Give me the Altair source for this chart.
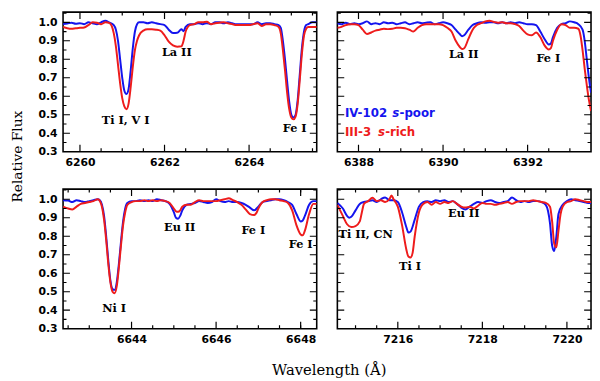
import altair as alt
import pandas as pd

STARS = ["IV-102 s-poor", "III-3 s-rich"]
COLORS = ["#1414ee", "#ee1c1c"]

# ---------------- top-left panel (6259.6 - 6265.6) ----------------
TL_BLUE = [
    (6259.6, 0.990), (6259.7, 0.993), (6259.8, 0.998), (6259.9, 0.992), (6260.0, 0.995),
    (6260.1, 0.990), (6260.2, 1.000), (6260.3, 0.995), (6260.4, 0.990), (6260.5, 1.000),
    (6260.6, 1.008), (6260.7, 0.998), (6260.8, 0.985), (6260.85, 0.960), (6260.9, 0.900),
    (6260.95, 0.800), (6261.0, 0.700), (6261.05, 0.630), (6261.1, 0.612), (6261.15, 0.640),
    (6261.2, 0.740), (6261.25, 0.860), (6261.3, 0.950), (6261.35, 0.990), (6261.4, 1.000),
    (6261.5, 1.000), (6261.6, 0.995), (6261.7, 1.000), (6261.8, 0.995), (6261.9, 0.990),
    (6262.0, 0.985), (6262.1, 0.960), (6262.2, 0.942), (6262.3, 0.943), (6262.4, 0.962),
    (6262.45, 0.952), (6262.5, 0.975), (6262.6, 0.990), (6262.7, 0.990), (6262.8, 0.995),
    (6262.9, 0.990), (6263.0, 0.995), (6263.1, 0.990), (6263.2, 1.000), (6263.3, 1.000),
    (6263.4, 0.995), (6263.5, 1.000), (6263.6, 0.995), (6263.7, 0.990), (6263.8, 0.990),
    (6263.9, 0.990), (6264.0, 0.990), (6264.1, 0.990), (6264.2, 1.000), (6264.3, 0.990),
    (6264.4, 0.995), (6264.5, 0.995), (6264.6, 0.990), (6264.7, 0.985), (6264.75, 0.970),
    (6264.8, 0.900), (6264.85, 0.800), (6264.9, 0.680), (6264.95, 0.570), (6265.0, 0.500),
    (6265.05, 0.485), (6265.1, 0.500), (6265.15, 0.580), (6265.2, 0.720), (6265.25, 0.860),
    (6265.3, 0.950), (6265.35, 0.985), (6265.4, 0.990), (6265.5, 1.000), (6265.6, 1.000),
]
TL_RED = [
    (6259.6, 0.975), (6259.7, 0.968), (6259.8, 0.965), (6259.9, 0.968), (6260.0, 0.970),
    (6260.1, 0.972), (6260.2, 0.985), (6260.3, 1.000), (6260.4, 0.998), (6260.5, 0.990),
    (6260.6, 1.000), (6260.7, 0.995), (6260.75, 0.980), (6260.8, 0.940), (6260.85, 0.870),
    (6260.9, 0.770), (6260.95, 0.670), (6261.0, 0.590), (6261.05, 0.545), (6261.1, 0.530),
    (6261.15, 0.560), (6261.2, 0.650), (6261.25, 0.760), (6261.3, 0.850), (6261.35, 0.900),
    (6261.4, 0.930), (6261.5, 0.955), (6261.6, 0.962), (6261.7, 0.962), (6261.8, 0.960),
    (6261.9, 0.955), (6262.0, 0.930), (6262.1, 0.895), (6262.2, 0.875), (6262.3, 0.868),
    (6262.4, 0.870), (6262.45, 0.900), (6262.5, 0.950), (6262.55, 0.975), (6262.6, 0.985),
    (6262.7, 0.990), (6262.8, 1.000), (6262.9, 1.000), (6263.0, 1.003), (6263.1, 0.990),
    (6263.2, 0.995), (6263.3, 0.998), (6263.4, 1.000), (6263.5, 0.995), (6263.6, 0.990),
    (6263.7, 0.985), (6263.8, 0.985), (6263.9, 0.985), (6264.0, 0.985), (6264.1, 0.990),
    (6264.2, 0.995), (6264.3, 0.980), (6264.4, 0.990), (6264.5, 0.990), (6264.6, 0.985),
    (6264.7, 0.975), (6264.75, 0.940), (6264.8, 0.850), (6264.85, 0.740), (6264.9, 0.620),
    (6264.95, 0.530), (6265.0, 0.485), (6265.05, 0.475), (6265.1, 0.490), (6265.15, 0.560),
    (6265.2, 0.690), (6265.25, 0.830), (6265.3, 0.930), (6265.35, 0.965), (6265.4, 0.975),
    (6265.5, 0.975), (6265.6, 0.975),
]
TL_NOTES = ["Ti I, V I", "La II", "Fe I"]
TL_NOTES_WL = [6261.08, 6262.29, 6265.08]
TL_NOTES_FLUX = [0.466, 0.832, 0.423]

# ---------------- top-right panel (6387.5 - 6393.5) ----------------
TR_BLUE = [
    (6387.5, 0.995), (6387.6, 0.990), (6387.7, 0.998), (6387.8, 0.990), (6387.9, 0.995),
    (6388.0, 0.990), (6388.1, 0.995), (6388.2, 1.005), (6388.3, 0.990), (6388.4, 0.995),
    (6388.5, 0.990), (6388.6, 1.000), (6388.7, 0.995), (6388.8, 0.998), (6388.9, 0.990),
    (6389.0, 0.995), (6389.1, 1.000), (6389.2, 0.990), (6389.3, 0.995), (6389.4, 1.000),
    (6389.5, 0.995), (6389.6, 0.998), (6389.7, 1.000), (6389.8, 0.990), (6389.9, 0.995),
    (6390.0, 1.000), (6390.1, 0.995), (6390.2, 0.985), (6390.3, 0.960), (6390.4, 0.935),
    (6390.45, 0.925), (6390.5, 0.930), (6390.6, 0.960), (6390.7, 0.985), (6390.8, 0.995),
    (6390.9, 1.000), (6391.0, 0.998), (6391.1, 1.000), (6391.2, 1.000), (6391.3, 0.995),
    (6391.4, 1.000), (6391.5, 0.995), (6391.6, 1.000), (6391.7, 0.995), (6391.8, 1.000),
    (6391.9, 0.995), (6392.0, 0.990), (6392.1, 0.990), (6392.2, 0.985), (6392.3, 0.950),
    (6392.4, 0.910), (6392.5, 0.880), (6392.55, 0.885), (6392.6, 0.920), (6392.7, 0.970),
    (6392.8, 0.990), (6392.9, 0.995), (6393.0, 1.005), (6393.1, 1.000), (6393.2, 0.990),
    (6393.3, 0.960), (6393.35, 0.900), (6393.4, 0.800), (6393.45, 0.700), (6393.5, 0.620),
]
TR_RED = [
    (6387.5, 0.970), (6387.6, 0.975), (6387.7, 0.985), (6387.8, 0.990), (6387.9, 0.990),
    (6388.0, 0.985), (6388.1, 0.960), (6388.2, 0.937), (6388.3, 0.945), (6388.4, 0.955),
    (6388.5, 0.960), (6388.6, 0.965), (6388.7, 0.963), (6388.8, 0.965), (6388.9, 0.970),
    (6389.0, 0.970), (6389.1, 0.968), (6389.2, 0.960), (6389.3, 0.950), (6389.4, 0.970),
    (6389.5, 0.985), (6389.6, 0.990), (6389.7, 0.990), (6389.8, 0.990), (6389.9, 0.990),
    (6390.0, 0.985), (6390.1, 0.970), (6390.2, 0.950), (6390.3, 0.900), (6390.4, 0.865),
    (6390.45, 0.856), (6390.5, 0.860), (6390.6, 0.910), (6390.7, 0.960), (6390.8, 0.985),
    (6390.9, 0.995), (6391.0, 1.005), (6391.1, 1.008), (6391.2, 1.002), (6391.3, 0.998),
    (6391.4, 1.000), (6391.5, 0.995), (6391.6, 0.995), (6391.7, 0.990), (6391.8, 0.980),
    (6391.9, 0.955), (6392.0, 0.935), (6392.1, 0.930), (6392.2, 0.945), (6392.3, 0.920),
    (6392.4, 0.875), (6392.5, 0.853), (6392.55, 0.860), (6392.6, 0.900), (6392.7, 0.960),
    (6392.8, 0.990), (6392.9, 0.985), (6393.0, 0.970), (6393.1, 0.970), (6393.2, 0.965),
    (6393.25, 0.930), (6393.3, 0.850), (6393.35, 0.750), (6393.4, 0.660), (6393.45, 0.580),
    (6393.5, 0.520),
]
TR_NOTES = ["La II", "Fe I"]
TR_NOTES_WL = [6390.49, 6392.49]
TR_NOTES_FLUX = [0.823, 0.800]

LEG_TEXT = ["IV-102", "s", "-poor", "III-3", "s", "-rich"]
LEG_WL = [6387.68, 6388.80, 6388.97, 6387.68, 6388.46, 6388.63]
LEG_FLUX = [0.510, 0.510, 0.510, 0.407, 0.407, 0.407]
LEG_STAR = [STARS[0]] * 3 + [STARS[1]] * 3
LEG_ITALIC = [False, True, False, False, True, False]

# ---------------- bottom-left panel (6642.38 - 6648.38) ----------------
BL_BLUE = [
    (6642.38, 0.995), (6642.5, 0.993), (6642.6, 0.985), (6642.7, 0.995), (6642.8, 0.990),
    (6642.9, 0.985), (6643.0, 0.990), (6643.1, 0.995), (6643.2, 1.000), (6643.25, 0.995),
    (6643.3, 0.970), (6643.35, 0.910), (6643.4, 0.800), (6643.45, 0.670), (6643.5, 0.560),
    (6643.55, 0.515), (6643.6, 0.510), (6643.65, 0.550), (6643.7, 0.650), (6643.75, 0.770),
    (6643.8, 0.880), (6643.85, 0.950), (6643.9, 0.980), (6644.0, 0.990), (6644.1, 0.990),
    (6644.2, 0.995), (6644.3, 0.990), (6644.4, 0.995), (6644.5, 0.990), (6644.6, 1.000),
    (6644.7, 0.995), (6644.8, 0.990), (6644.9, 0.975), (6645.0, 0.930), (6645.05, 0.900),
    (6645.1, 0.895), (6645.15, 0.910), (6645.2, 0.940), (6645.3, 0.970), (6645.4, 0.975),
    (6645.5, 0.980), (6645.6, 0.990), (6645.7, 0.985), (6645.8, 0.980), (6645.9, 0.985),
    (6646.0, 1.000), (6646.1, 0.990), (6646.2, 0.985), (6646.3, 0.990), (6646.4, 0.985),
    (6646.5, 0.985), (6646.6, 0.980), (6646.7, 0.970), (6646.8, 0.955), (6646.9, 0.940),
    (6647.0, 0.960), (6647.1, 0.985), (6647.2, 0.990), (6647.3, 0.995), (6647.4, 1.000),
    (6647.5, 1.000), (6647.6, 0.995), (6647.7, 0.985), (6647.8, 0.970), (6647.9, 0.920),
    (6648.0, 0.880), (6648.05, 0.885), (6648.1, 0.910), (6648.2, 0.970), (6648.3, 0.990),
    (6648.38, 0.990),
]
BL_RED = [
    (6642.38, 0.960), (6642.5, 0.950), (6642.6, 0.945), (6642.7, 0.960), (6642.8, 0.975),
    (6642.9, 0.980), (6643.0, 0.985), (6643.1, 0.990), (6643.2, 1.000), (6643.25, 0.990),
    (6643.3, 0.960), (6643.35, 0.890), (6643.4, 0.780), (6643.45, 0.650), (6643.5, 0.550),
    (6643.55, 0.500), (6643.6, 0.492), (6643.65, 0.530), (6643.7, 0.630), (6643.75, 0.750),
    (6643.8, 0.860), (6643.85, 0.930), (6643.9, 0.970), (6644.0, 0.985), (6644.1, 0.990),
    (6644.2, 0.990), (6644.3, 0.995), (6644.4, 0.990), (6644.5, 0.995), (6644.6, 0.990),
    (6644.7, 0.995), (6644.8, 0.990), (6644.9, 0.980), (6645.0, 0.950), (6645.05, 0.935),
    (6645.1, 0.932), (6645.15, 0.940), (6645.2, 0.960), (6645.3, 0.970), (6645.4, 0.970),
    (6645.5, 0.985), (6645.6, 0.995), (6645.7, 0.990), (6645.8, 0.990), (6645.9, 0.990),
    (6646.0, 0.990), (6646.1, 0.995), (6646.2, 1.000), (6646.3, 1.005), (6646.4, 0.995),
    (6646.5, 0.985), (6646.6, 0.970), (6646.7, 0.945), (6646.8, 0.920), (6646.9, 0.915),
    (6646.95, 0.925), (6647.0, 0.950), (6647.1, 0.985), (6647.2, 0.995), (6647.3, 1.000),
    (6647.4, 1.000), (6647.5, 0.995), (6647.6, 0.990), (6647.7, 0.980), (6647.8, 0.940),
    (6647.9, 0.860), (6648.0, 0.810), (6648.05, 0.805), (6648.1, 0.830), (6648.2, 0.920),
    (6648.3, 0.975), (6648.38, 0.975),
]
BL_NOTES = ["Ni I", "Eu II", "Fe I", "Fe I"]
BL_NOTES_WL = [6643.59, 6645.14, 6646.88, 6648.0]
BL_NOTES_FLUX = [0.404, 0.847, 0.830, 0.751]

# ---------------- bottom-right panel (7214.57 - 7220.57) ----------------
BR_BLUE = [
    (7214.57, 0.980), (7214.7, 0.950), (7214.8, 0.910), (7214.85, 0.900), (7214.9, 0.905),
    (7215.0, 0.940), (7215.1, 0.975), (7215.2, 0.985), (7215.3, 0.990), (7215.4, 0.995),
    (7215.5, 0.985), (7215.6, 1.000), (7215.7, 1.010), (7215.8, 0.995), (7215.9, 0.995),
    (7216.0, 0.985), (7216.1, 0.930), (7216.2, 0.850), (7216.25, 0.820), (7216.3, 0.825),
    (7216.4, 0.890), (7216.5, 0.960), (7216.6, 0.985), (7216.7, 0.990), (7216.8, 0.985),
    (7216.9, 0.995), (7217.0, 0.990), (7217.1, 0.995), (7217.2, 0.985), (7217.3, 0.990),
    (7217.4, 0.975), (7217.5, 0.955), (7217.6, 0.945), (7217.7, 0.960), (7217.8, 0.975),
    (7217.9, 0.985), (7218.0, 0.980), (7218.1, 0.990), (7218.2, 0.995), (7218.3, 0.985),
    (7218.4, 0.980), (7218.5, 0.985), (7218.6, 0.990), (7218.7, 1.010), (7218.8, 0.995),
    (7218.9, 0.985), (7219.0, 0.990), (7219.1, 0.985), (7219.2, 0.990), (7219.3, 0.990),
    (7219.4, 0.985), (7219.5, 0.970), (7219.6, 0.870), (7219.65, 0.750), (7219.7, 0.720),
    (7219.75, 0.800), (7219.8, 0.920), (7219.9, 0.970), (7220.0, 0.990), (7220.1, 1.000),
    (7220.2, 0.995), (7220.3, 0.990), (7220.4, 0.985), (7220.5, 0.980), (7220.57, 0.980),
]
BR_RED = [
    (7214.57, 0.970), (7214.7, 0.910), (7214.8, 0.865), (7214.9, 0.850), (7215.0, 0.855),
    (7215.1, 0.880), (7215.15, 0.930), (7215.2, 0.975), (7215.3, 0.990), (7215.4, 1.008),
    (7215.5, 0.990), (7215.6, 0.995), (7215.7, 0.985), (7215.8, 1.000), (7215.85, 1.020),
    (7215.9, 1.000), (7216.0, 0.960), (7216.1, 0.860), (7216.2, 0.730), (7216.25, 0.690),
    (7216.3, 0.685), (7216.35, 0.710), (7216.4, 0.800), (7216.5, 0.930), (7216.6, 0.975),
    (7216.7, 0.985), (7216.8, 0.970), (7216.9, 0.985), (7217.0, 0.975), (7217.1, 0.985),
    (7217.2, 0.980), (7217.3, 0.990), (7217.4, 0.975), (7217.5, 0.960), (7217.6, 0.955),
    (7217.7, 0.960), (7217.8, 0.950), (7217.9, 0.965), (7218.0, 0.980), (7218.1, 0.975),
    (7218.2, 0.975), (7218.3, 0.970), (7218.4, 0.975), (7218.5, 0.980), (7218.6, 0.985),
    (7218.7, 0.975), (7218.8, 0.985), (7218.9, 0.990), (7219.0, 0.990), (7219.1, 0.990),
    (7219.2, 0.995), (7219.3, 0.990), (7219.4, 0.985), (7219.5, 0.980), (7219.6, 0.960),
    (7219.65, 0.880), (7219.7, 0.760), (7219.75, 0.740), (7219.8, 0.830), (7219.85, 0.920),
    (7219.9, 0.960), (7220.0, 0.985), (7220.1, 0.990), (7220.2, 1.000), (7220.3, 0.995),
    (7220.4, 0.990), (7220.5, 0.985), (7220.57, 0.985),
]
BR_NOTES = ["Ti II, CN", "Ti I", "Eu II"]
BR_NOTES_WL = [7215.24, 7216.29, 7217.56]
BR_NOTES_FLUX = [0.804, 0.634, 0.920]

Y_DOMAIN = [0.3, 1.055]
Y_MAJOR = [0.3, 0.4, 0.5, 0.6, 0.7, 0.8, 0.9, 1.0]
Y_MINOR = [0.35, 0.45, 0.55, 0.65, 0.75, 0.85, 0.95, 1.05]

PANELS = [
    dict(dom=[6259.6, 6265.6], major=[6260, 6262, 6264],
         minor=[6260.5, 6261, 6261.5, 6262.5, 6263, 6263.5, 6264.5, 6265, 6265.5],
         blue=TL_BLUE, red=TL_RED, notes=(TL_NOTES, TL_NOTES_WL, TL_NOTES_FLUX),
         ylabels=True, legend=False),
    dict(dom=[6387.5, 6393.5], major=[6388, 6390, 6392],
         minor=[6388.5, 6389, 6389.5, 6390.5, 6391, 6391.5, 6392.5, 6393],
         blue=TR_BLUE, red=TR_RED, notes=(TR_NOTES, TR_NOTES_WL, TR_NOTES_FLUX),
         ylabels=False, legend=True),
    dict(dom=[6642.38, 6648.38], major=[6644, 6646, 6648],
         minor=[6642.5, 6643, 6643.5, 6644.5, 6645, 6645.5, 6646.5, 6647, 6647.5, 6648],
         blue=BL_BLUE, red=BL_RED, notes=(BL_NOTES, BL_NOTES_WL, BL_NOTES_FLUX),
         ylabels=True, legend=False),
    dict(dom=[7214.57, 7220.57], major=[7216, 7218, 7220],
         minor=[7215, 7215.5, 7216.5, 7217, 7217.5, 7218.5, 7219, 7219.5, 7220.5],
         blue=BR_BLUE, red=BR_RED, notes=(BR_NOTES, BR_NOTES_WL, BR_NOTES_FLUX),
         ylabels=False, legend=False),
]

W, H = 258, 142
MAJ, MIN = 7, 3.5
SANS = "DejaVu Sans"
SERIF = "DejaVu Serif"


def series_df(pairs, star):
    return pd.DataFrame({"wl": [p[0] for p in pairs], "flux": [p[1] for p in pairs],
                         "star": star})


def panel(cfg):
    xs = alt.Scale(domain=cfg["dom"], nice=False, zero=False)
    ys = alt.Scale(domain=Y_DOMAIN, nice=False, zero=False)
    blue = series_df(cfg["blue"], STARS[0])
    red = series_df(cfg["red"], STARS[1])

    lab_x = alt.Axis(orient="bottom", values=cfg["major"], format="d", tickSize=0,
                     domain=False, grid=False, labelPadding=5, labelFont=SANS,
                     labelFontWeight="bold", labelFontSize=11, labelColor="black",
                     title=None)
    lab_y = alt.Axis(orient="left", values=Y_MAJOR, format=".1f", tickSize=0,
                     domain=False, grid=False, labelPadding=6, labels=cfg["ylabels"],
                     labelFont=SANS, labelFontWeight="bold", labelFontSize=11,
                     labelColor="black", title=None)

    def X():
        return alt.X("wl:Q", scale=xs, axis=lab_x)

    def Y():
        return alt.Y("flux:Q", scale=ys, axis=lab_y)

    def line(df, color):
        return alt.Chart(df).mark_line(color=color, strokeWidth=2,
                                       interpolate="monotone", clip=True).encode(
            x=X(), y=Y(), order="wl:Q",
        )

    # inward tick marks on all four sides (half of each tick is clipped by the frame)
    def xticks(values, size):
        df = pd.DataFrame({"wl": values * 2,
                           "flux": [Y_DOMAIN[0]] * len(values) + [Y_DOMAIN[1]] * len(values)})
        return alt.Chart(df).mark_tick(orient="vertical", size=2 * size, thickness=1.2,
                                       color="black", clip=True, opacity=1).encode(x=X(), y=Y())

    def yticks(values, size):
        df = pd.DataFrame({"flux": values * 2,
                           "wl": [cfg["dom"][0]] * len(values) + [cfg["dom"][1]] * len(values)})
        return alt.Chart(df).mark_tick(orient="horizontal", size=2 * size, thickness=1.2,
                                       color="black", clip=True, opacity=1).encode(x=X(), y=Y())

    layers = [
        line(blue, COLORS[0]),
        line(red, COLORS[1]),
        xticks(cfg["major"], MAJ),
        xticks(cfg["minor"], MIN),
        yticks(Y_MAJOR, MAJ),
        yticks(Y_MINOR, MIN),
    ]

    names, nwl, nfl = cfg["notes"]
    notes = pd.DataFrame({"wl": nwl, "flux": nfl, "label": names})
    layers.append(
        alt.Chart(notes).mark_text(font=SERIF, fontWeight="bold", fontSize=11.5,
                                   align="center", baseline="middle", color="black").encode(
            x=X(), y=Y(), text="label:N",
        )
    )

    if cfg["legend"]:
        leg = pd.DataFrame({"wl": LEG_WL, "flux": LEG_FLUX, "text": LEG_TEXT,
                            "star": LEG_STAR, "italic": LEG_ITALIC})
        cscale = alt.Scale(domain=STARS, range=COLORS)
        for italic in (False, True):
            layers.append(
                alt.Chart(leg[leg["italic"] == italic]).mark_text(
                    font=SANS, fontWeight="bold", fontSize=12,
                    fontStyle="italic" if italic else "normal",
                    align="left", baseline="middle").encode(
                    x=X(), y=Y(), text="text:N",
                    color=alt.Color("star:N", scale=cscale, legend=None),
                )
            )

    return alt.layer(*layers).properties(width=W, height=H)


p = [panel(c) for c in PANELS]
row1 = alt.hconcat(p[0], p[1], spacing=18)
row2 = alt.hconcat(p[2], p[3], spacing=18)
grid = alt.vconcat(row1, row2, spacing=20).properties(
    title=alt.TitleParams("Relative Flux", orient="left", anchor="middle", font=SERIF,
                          fontSize=14, fontWeight="normal", offset=12, dx=22,
                          color="black"))
chart = alt.hconcat(grid, spacing=0).properties(
    title=alt.TitleParams("Wavelength (Å)", orient="bottom", anchor="middle", font=SERIF,
                          fontSize=15, fontWeight="normal", offset=18, dx=28, color="black"),
    padding={"left": 3, "top": 0, "right": 0, "bottom": 0},
).configure_view(stroke="black", strokeWidth=1.6)

chart.save("out.html", embed_options={"renderer": "svg", "actions": False})
